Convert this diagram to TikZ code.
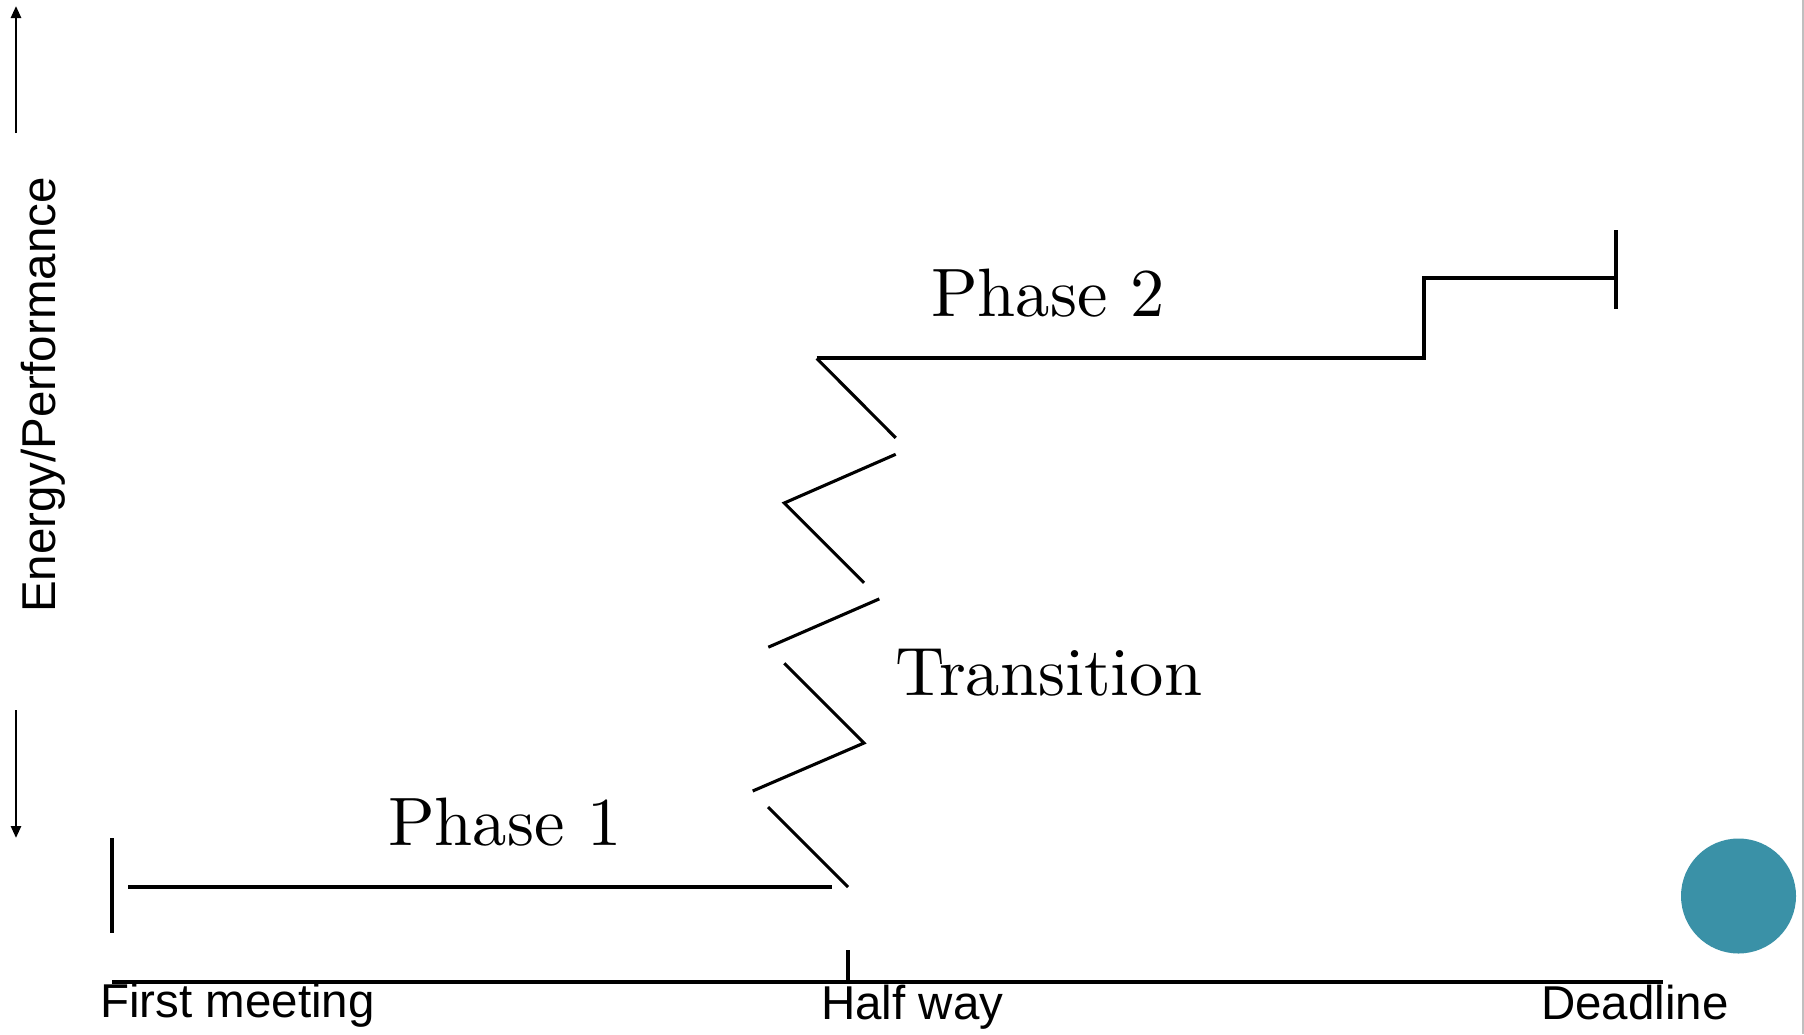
\documentclass[tikz,border=0pt]{standalone}
\usepackage{fontspec}
\setmainfont{Latin Modern Roman}
\newfontfamily\phasefont{lmroman10-regular}[Extension=.otf]
\newfontfamily\axisfont{Liberation Sans}
\usetikzlibrary{arrows.meta}
\definecolor{teal}{RGB}{58,145,167}
\begin{document}
\begin{tikzpicture}[x=1pt,y=-1pt,
  stroke/.style={line width=3.1pt,line cap=butt},
  phaselbl/.style={inner sep=0pt,anchor=base west,font=\phasefont\fontsize{68.5}{72}\selectfont},
  axislbl/.style={inner sep=0pt,anchor=base west,font=\axisfont\fontsize{47.5}{50}\selectfont},
  axarrow/.style={line width=2.6pt,-{Triangle[width=10pt,length=12pt]}}]
\useasboundingbox (0,0) rectangle (1804,1034);
\fill[white] (0,0) rectangle (1804,1034);
\draw[black!25,line width=1.5pt] (1803,0) -- (1803,1034);
% y axis arrows
\coordinate (upS) at (16,133);
\coordinate (upE) at (16,6);
\coordinate (dnS) at (16,710);
\coordinate (dnE) at (16,838);
\draw[axarrow] (upS) -- (upE);
\draw[axarrow] (dnS) -- (dnE);
\node[axislbl,rotate=90] (ylbl) at (55,613) {Energy/Performance};
% time axis
\coordinate (ax0) at (112,982);
\coordinate (ax1) at (1663,982);
\draw[stroke] (ax0) -- (ax1);
\draw[stroke] (848,950) -- (848,982);
\node[axislbl] (first) at (100,1017) {First meeting};
\node[axislbl] (half) at (821,1019) {Half way};
\node[axislbl] (dead) at (1541,1019) {Deadline};
% phase 1
\draw[stroke] (112,838) -- (112,933);
\draw[stroke] (128,887) -- (832,887);
\node[phaselbl] (p1) at (388,845) {Phase 1};
% zigzag transition
\draw[stroke] (768,807) -- (848,887);
\draw[stroke] (752.7,791) -- (864,743) -- (784.3,663.3);
\draw[stroke] (768.3,647.2) -- (879.3,598.9);
\draw[stroke] (864,582.8) -- (784.3,503) -- (895.7,454.3);
\draw[stroke] (895.7,437.8) -- (816.7,358.4);
\node[phaselbl] (tr) at (895,695) {Transition};
% phase 2
\draw[stroke] (816.7,358) -- (1424,358) -- (1424,278) -- (1616,278);
\draw[stroke] (1616,230) -- (1616,309);
\node[phaselbl] (p2) at (931,316.7) {Phase 2};
% circle
\fill[teal] (1738.5,896) circle (57.5);
\end{tikzpicture}
\end{document}
